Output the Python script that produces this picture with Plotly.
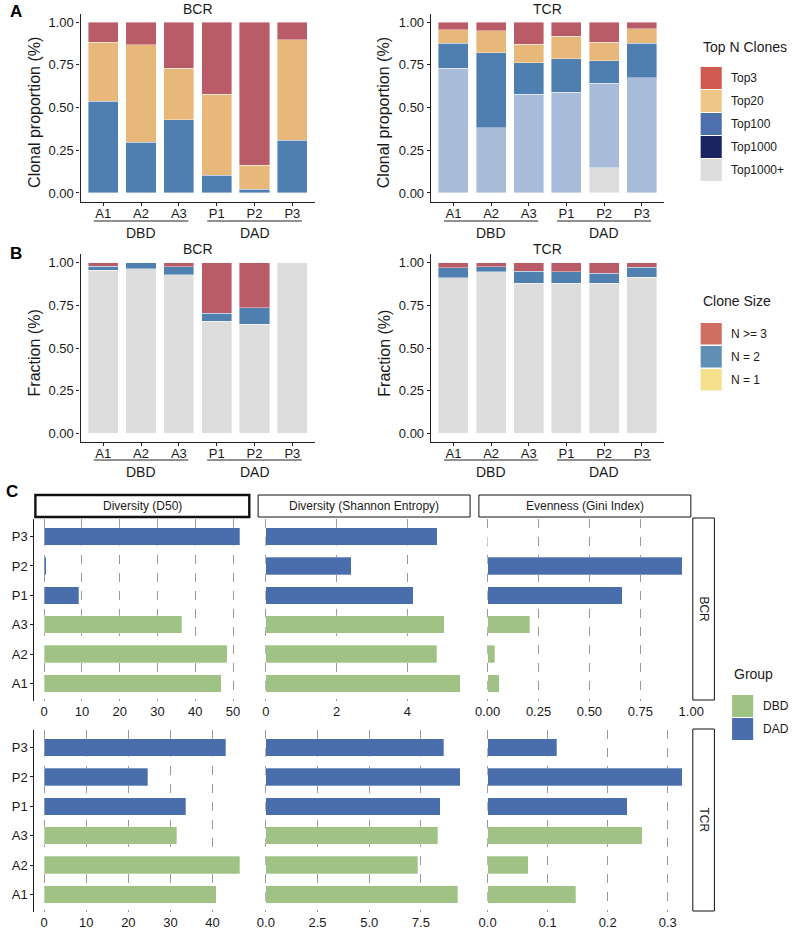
import plotly.graph_objects as go

W, H = 799, 931

# ---------------- data ----------------
samples = ["A1", "A2", "A3", "P1", "P2", "P3"]
group_of = ["DBD", "DBD", "DBD", "DAD", "DAD", "DAD"]
group_names = ["DBD", "DAD"]

# Panel A: Top N clones (stack bottom -> top)
topn_levels = ["Top1000+", "Top1000", "Top100", "Top20", "Top3"]
bcr_top1000p = [0, 0, 0, 0, 0, 0]
bcr_top1000 = [0, 0, 0, 0, 0, 0]
bcr_top100 = [0.538, 0.297, 0.427, 0.104, 0.022, 0.309]
bcr_top20 = [0.343, 0.570, 0.303, 0.475, 0.140, 0.587]
bcr_top3 = [0.119, 0.133, 0.270, 0.421, 0.838, 0.104]
tcr_top1000p = [0, 0, 0, 0, 0.147, 0]
tcr_top1000 = [0.730, 0.382, 0.577, 0.589, 0.495, 0.675]
tcr_top100 = [0.147, 0.438, 0.186, 0.196, 0.131, 0.200]
tcr_top20 = [0.078, 0.129, 0.108, 0.131, 0.110, 0.086]
tcr_top3 = [0.045, 0.051, 0.129, 0.084, 0.117, 0.039]

# Panel B: clone size fractions (stack bottom -> top)
size_levels = ["N = 1", "N = 2", "N >= 3"]
bcr_n1 = [0.957, 0.965, 0.930, 0.658, 0.640, 1.000]
bcr_n2 = [0.022, 0.035, 0.045, 0.045, 0.096, 0.000]
bcr_n3 = [0.021, 0.000, 0.025, 0.297, 0.264, 0.000]
tcr_n1 = [0.912, 0.947, 0.881, 0.879, 0.879, 0.916]
tcr_n2 = [0.059, 0.030, 0.070, 0.068, 0.060, 0.057]
tcr_n3 = [0.029, 0.023, 0.049, 0.053, 0.061, 0.027]

# Panel C: diversity metrics
metrics = ["Diversity (D50)", "Diversity (Shannon Entropy)", "Evenness (Gini Index)"]
bcr_d50 = [46.8, 48.4, 36.4, 9.2, 0.6, 51.7]
bcr_shannon = [5.50, 4.83, 5.05, 4.17, 2.42, 4.85]
bcr_gini = [0.058, 0.034, 0.208, 0.662, 0.955, 0.0]
tcr_d50 = [40.9, 46.4, 31.5, 33.6, 24.6, 43.1]
tcr_shannon = [9.29, 7.34, 8.31, 8.43, 9.41, 8.60]
tcr_gini = [0.147, 0.068, 0.258, 0.233, 0.324, 0.115]

# ---------------- styles ----------------
FONT = "Liberation Sans, Arial, sans-serif"
TXT = "#1a1a1a"
bar_topn_colors = {"Top3": "#B95C68", "Top20": "#E8B87B", "Top100": "#4F7EB0",
                   "Top1000": "#A8BBD8", "Top1000+": "#DCDCDC"}
leg_topn_colors = {"Top3": "#D05A52", "Top20": "#EEC786", "Top100": "#4D6FAB",
                   "Top1000": "#1A2461", "Top1000+": "#DCDCDC"}
bar_size_colors = {"N = 1": "#DDDDDD", "N = 2": "#5080B0", "N >= 3": "#B95C68"}
leg_size_colors = {"N >= 3": "#CF6E62", "N = 2": "#5F8FB4", "N = 1": "#F6E08C"}
group_colors = {"DBD": "#A0C285", "DAD": "#4A6DAB"}


def fx(p):
    return p / W


def fy(p):
    return 1 - p / H


fig = go.Figure()
layout = dict(width=W, height=H, margin=dict(l=0, r=0, t=0, b=0),
              paper_bgcolor="white", plot_bgcolor="white", showlegend=False,
              barmode="stack", font=dict(family=FONT, color=TXT, size=13))
shapes, annos = [], []

# --------- Panels A & B (stacked vertical bars) ---------
ab_panels = [
    (1, (79, 318), (13.5, 201.5), "BCR",
     [bcr_top1000p, bcr_top1000, bcr_top100, bcr_top20, bcr_top3], topn_levels, bar_topn_colors,
     "Clonal proportion (%)", 32, 9, 221, 233, -3),
    (2, (436, 674), (13.5, 201.5), "TCR",
     [tcr_top1000p, tcr_top1000, tcr_top100, tcr_top20, tcr_top3], topn_levels, bar_topn_colors,
     "Clonal proportion (%)", 388, 9, 221, 233, -3),
    (3, (79, 318), (254.2, 441.8), "BCR",
     [bcr_n1, bcr_n2, bcr_n3], size_levels, bar_size_colors,
     "Fraction (%)", 32, 249, 460, 472, -4),
    (4, (436, 674), (254.2, 441.8), "TCR",
     [tcr_n1, tcr_n2, tcr_n3], size_levels, bar_size_colors,
     "Fraction (%)", 388, 249, 460, 472, -4),
]
for idx, xd, yd, title, series, levels, colors, ytitle, ytx, tty, gly, gty, tls in ab_panels:
    xa = "x" if idx == 1 else f"x{idx}"
    ya = "y" if idx == 1 else f"y{idx}"
    for lev, vals in zip(levels, series):
        fig.add_trace(go.Bar(x=samples, y=vals, name=lev, xaxis=xa, yaxis=ya, width=0.8,
                             marker=dict(color=colors[lev], line=dict(color="white", width=0.4))))
    kx = "xaxis" if idx == 1 else f"xaxis{idx}"
    ky = "yaxis" if idx == 1 else f"yaxis{idx}"
    layout[kx] = dict(domain=[fx(xd[0]), fx(xd[1])], anchor=ya, type="category",
                      categoryorder="array", categoryarray=samples, range=[-0.6, 5.6],
                      showline=True, linecolor="#222", linewidth=1.2, ticks="outside",
                      ticklen=3, tickcolor="#222", showgrid=False, zeroline=False,
                      ticklabelstandoff=tls, tickfont=dict(size=13, color=TXT))
    layout[ky] = dict(domain=[fy(yd[1]), fy(yd[0])], anchor=xa, range=[-0.05, 1.05],
                      tickvals=[0, 0.25, 0.5, 0.75, 1.0], ticktext=["0.00", "0.25", "0.50", "0.75", "1.00"],
                      showline=True, linecolor="#222", linewidth=1.2, ticks="outside",
                      ticklen=3, tickcolor="#222", showgrid=False, zeroline=False,
                      tickfont=dict(size=13, color=TXT))
    annos.append(dict(text=title, x=fx((xd[0] + xd[1]) / 2), y=fy(tty), xref="paper", yref="paper",
                      showarrow=False, font=dict(size=14, color=TXT), xanchor="center", yanchor="middle"))
    annos.append(dict(text=ytitle, x=fx(ytx), y=fy((yd[0] + yd[1]) / 2 + 5), xref="paper", yref="paper",
                      showarrow=False, textangle=-90, font=dict(size=16, color=TXT),
                      xanchor="center", yanchor="middle"))
    for g, (a, b) in zip(group_names, [(-0.25, 2.25), (2.75, 5.25)]):
        shapes.append(dict(type="line", xref=xa, yref="paper", x0=a, x1=b, y0=fy(gly), y1=fy(gly),
                           line=dict(color="#222", width=1.2)))
        annos.append(dict(text=g, xref=xa, yref="paper", x=(a + b) / 2, y=fy(gty), showarrow=False,
                          font=dict(size=14, color=TXT), xanchor="center", yanchor="middle"))

# --------- Panel C (horizontal bars, facet grid) ---------
cols_px = [(32, 251), (258, 476), (484, 702)]
rows_px = [(519, 701), (730, 912)]
c_data = [[bcr_d50, bcr_shannon, bcr_gini], [tcr_d50, tcr_shannon, tcr_gini]]
c_ticks = [
    [dict(dtick=10, tickformat="d"), dict(dtick=2, tickformat="d"), dict(dtick=0.25, tickformat=".2f")],
    [dict(dtick=10, tickformat="d"), dict(dtick=2.5, tickformat=".1f"), dict(dtick=0.1, tickformat=".1f")],
]
bar_cols = [group_colors[g] for g in group_of]
idx = 5
for r, (ry0, ry1) in enumerate(rows_px):
    for c, (cx0, cx1) in enumerate(cols_px):
        vals = c_data[r][c]
        vmax = max(vals)
        xa, ya = f"x{idx}", f"y{idx}"
        fig.add_trace(go.Bar(y=samples, x=vals, orientation="h", xaxis=xa, yaxis=ya, width=0.6,
                             marker=dict(color=bar_cols, line=dict(color="rgba(255,255,255,0.6)", width=0.5))))
        layout[f"xaxis{idx}"] = dict(domain=[fx(cx0), fx(cx1)], anchor=ya,
                                     range=[-0.05 * vmax, 1.05 * vmax], tick0=0,
                                     showline=False, showgrid=True, gridcolor="#9a9a9a", gridwidth=1,
                                     griddash="dash", zeroline=False, ticks="",
                                     ticklabelstandoff=1,
                                     tickfont=dict(size=13, color=TXT), **c_ticks[r][c])
        layout[f"yaxis{idx}"] = dict(domain=[fy(ry1), fy(ry0)], anchor=xa, type="category",
                                     categoryorder="array", categoryarray=samples, range=[-0.6, 5.6],
                                     showline=(c == 0), linecolor="#222", linewidth=1.3,
                                     ticks="outside" if c == 0 else "", ticklen=3, tickcolor="#222",
                                     showticklabels=(c == 0), showgrid=False, zeroline=False,
                                     tickfont=dict(size=13, color=TXT))
        idx += 1

# strips (top)
strip_x = [(33, 251), (260, 476), (485, 701)]
for c, (sx0, sx1) in enumerate(strip_x):
    shapes.append(dict(type="rect", xref="paper", yref="paper", x0=fx(sx0), x1=fx(sx1),
                       y0=fy(517), y1=fy(495), line=dict(color="#111", width=2.4 if c == 0 else 1),
                       fillcolor="white"))
    annos.append(dict(text=metrics[c], x=fx((sx0 + sx1) / 2), y=fy(506), xref="paper", yref="paper",
                      showarrow=False, font=dict(size=12, color=TXT), xanchor="center", yanchor="middle"))
# strips (right)
for lab, (ry0, ry1) in zip(["BCR", "TCR"], [(518, 700), (729, 911)]):
    shapes.append(dict(type="rect", xref="paper", yref="paper", x0=fx(703), x1=fx(725),
                       y0=fy(ry1), y1=fy(ry0), line=dict(color="#111", width=1), fillcolor="white"))
    annos.append(dict(text=lab, x=fx(714), y=fy((ry0 + ry1) / 2), xref="paper", yref="paper",
                      showarrow=False, textangle=90, font=dict(size=12, color=TXT),
                      xanchor="center", yanchor="middle"))


# --------- legends (drawn as keys + labels) ---------
def draw_legend(title, labels, colors, x0, title_y, key_tops, key_h):
    annos.append(dict(text=title, x=fx(x0), y=fy(title_y), xref="paper", yref="paper", showarrow=False,
                      font=dict(size=14, color=TXT), xanchor="left", yanchor="middle"))
    for lab, top in zip(labels, key_tops):
        shapes.append(dict(type="rect", xref="paper", yref="paper", x0=fx(x0), x1=fx(x0 + 21.5),
                           y0=fy(top + key_h), y1=fy(top), line=dict(width=0), fillcolor=colors[lab]))
        annos.append(dict(text=lab, x=fx(x0 + 29), y=fy(top + key_h / 2), xref="paper", yref="paper",
                          showarrow=False, font=dict(size=12, color=TXT), xanchor="left", yanchor="middle"))


draw_legend("Top N Clones", ["Top3", "Top20", "Top100", "Top1000", "Top1000+"], leg_topn_colors,
            711, 47, [67, 90, 113, 136, 159], 22)
draw_legend("Clone Size", ["N >= 3", "N = 2", "N = 1"], leg_size_colors,
            711, 301, [323, 346, 369], 21.5)
draw_legend("Group", group_names, group_colors, 743, 674, [695, 718], 22)

# panel letters
for letter, (lx, ly) in zip(["A", "B", "C"], [(13, 12), (13, 253), (9, 491)]):
    annos.append(dict(text=f"<b>{letter}</b>", x=fx(lx), y=fy(ly), xref="paper", yref="paper",
                      showarrow=False, font=dict(size=17, color="#000"), xanchor="center", yanchor="middle"))

layout["shapes"] = shapes
layout["annotations"] = annos
fig.update_layout(**layout)
fig.write_html("out.html", config={"displayModeBar": False},
               post_script="document.body.style.margin='0px';document.body.style.padding='0px';")
